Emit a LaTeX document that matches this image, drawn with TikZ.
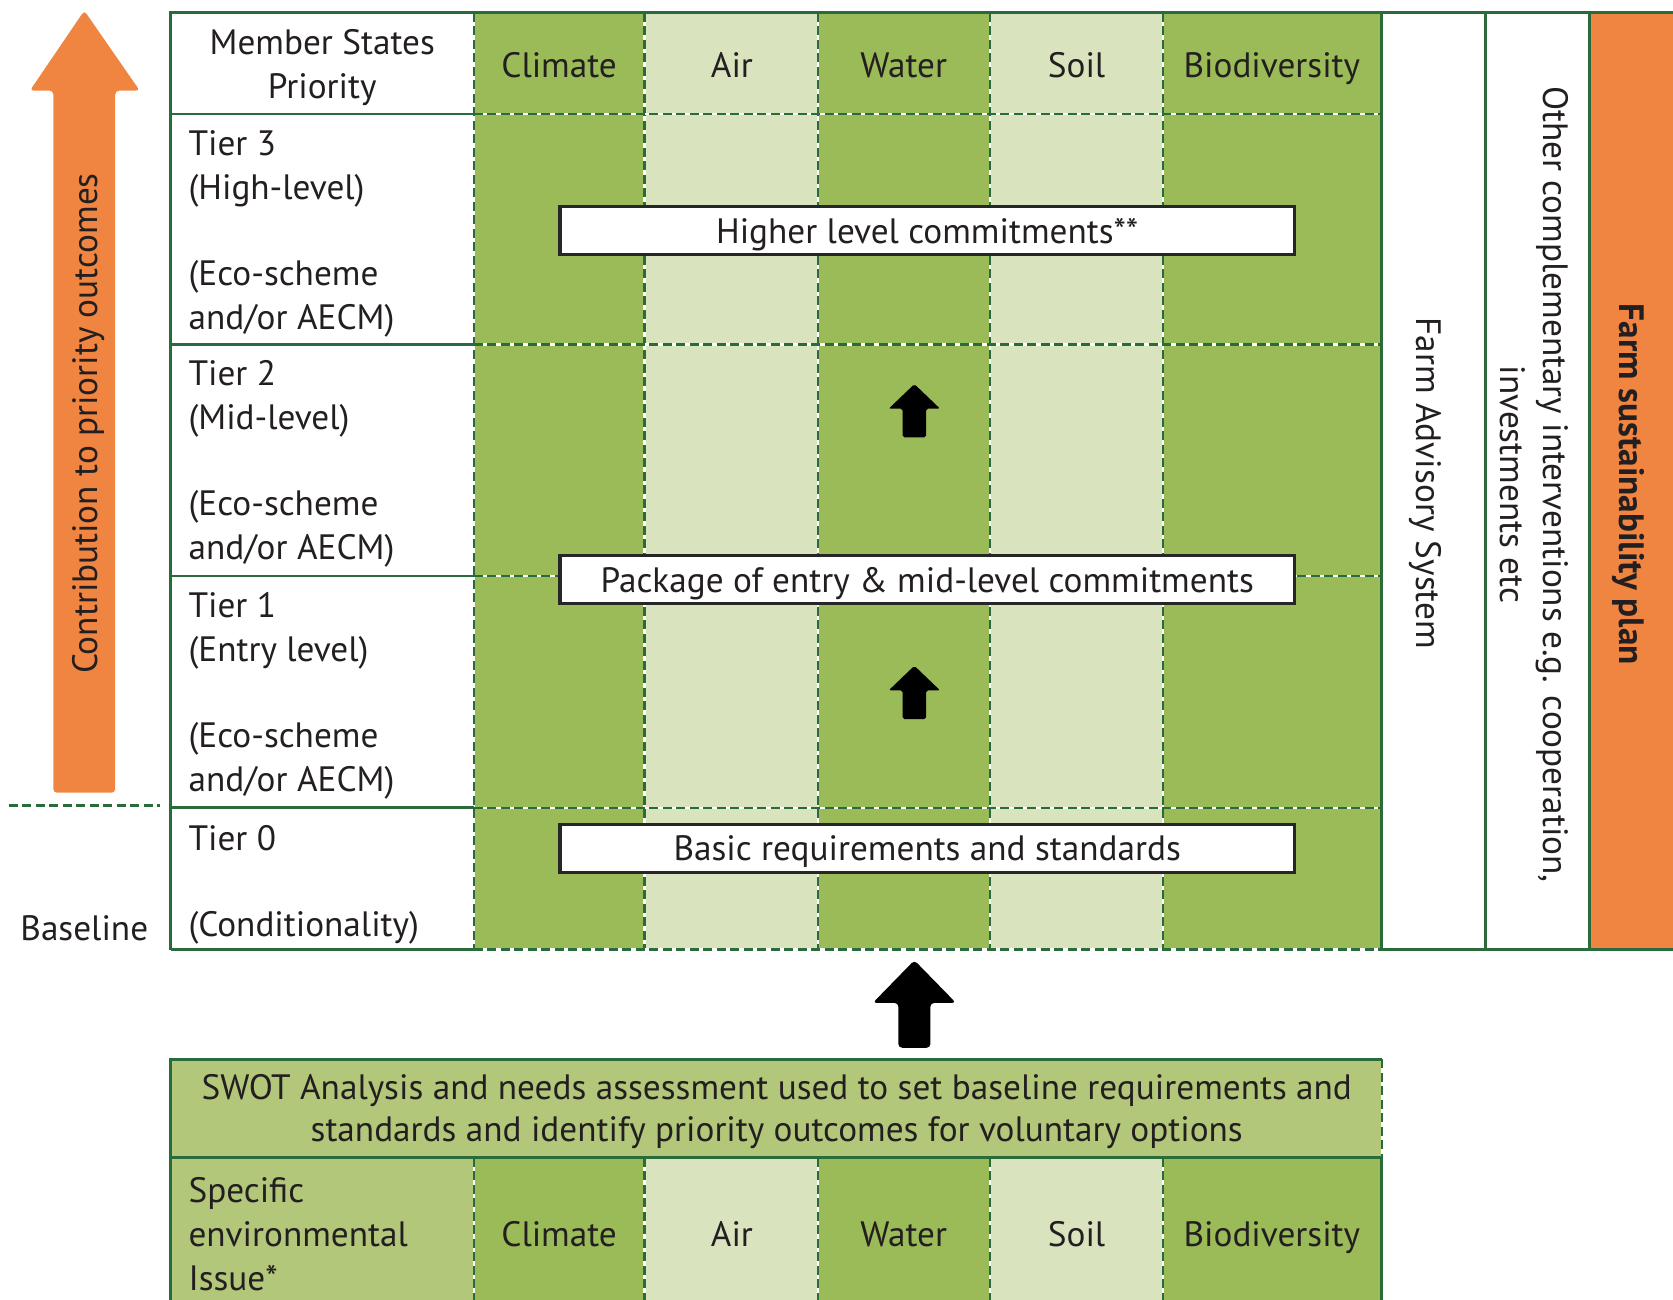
\documentclass[tikz,border=0pt]{standalone}
\usepackage{fontspec}
\setmainfont{PT Sans}
\usetikzlibrary{positioning}

\definecolor{leafgreen}{HTML}{9BBB59}
\definecolor{palegreen}{HTML}{D9E4BE}
\definecolor{swotgreen}{HTML}{B2C77A}
\definecolor{gridgreen}{HTML}{2A6B3C}
\definecolor{farmorange}{HTML}{EF8540}
\definecolor{ink}{HTML}{231F20}

\tikzset{
  gridline/.style={draw=gridgreen, line width=0.7pt},
  dashline/.style={preaction={draw=white, solid, line width=0.6pt},
                   draw=gridgreen, line width=0.6pt, dash pattern=on 2.4pt off 1.2pt},
  txt/.style={font=\fontsize{9.4}{11.7}\selectfont, text=ink, inner sep=0pt},
  word/.style={txt, text height=6.8pt, text depth=0pt},
  lefttxt/.style={txt, anchor=west, align=left},
  commitbox/.style={word, draw=black!85, line width=0.9pt, fill=white,
                    minimum width=6.88cm, minimum height=0.45cm},
}

\begin{document}
\begin{tikzpicture}[x=0.1mm, y=-0.1mm]
			\useasboundingbox (0,0) rectangle (1568,1218);

			% column fills
			\foreach \xa/\xb/\colr in {444/604/leafgreen, 604/767/palegreen, 767/928/leafgreen, 928/1090/palegreen, 1090/1295/leafgreen}
			{
				\fill[\colr] (\xa,12) rectangle (\xb,890);
				\fill[\colr] (\xa,1085) rectangle (\xb,1230);
			}
			\fill[farmorange] (1490,12) rectangle (1575,890);
			\fill[swotgreen] (160,993) rectangle (1295,1085);
			\fill[swotgreen] (160,1085) rectangle (444,1230);

			% grid
			\foreach \x in {444, 604, 767, 928, 1090}
			{
				\draw[dashline] (\x,12) -- (\x,890);
				\draw[dashline] (\x,1085) -- (\x,1230);
			}
			\foreach \y in {107, 323, 540, 757, 890}
			{
				\draw[gridline] (160,\y) -- (444,\y);
				\draw[dashline] (444,\y) -- (1295,\y);
			}
			\draw[gridline] (160,890) -- (160,12) -- (1575,12);
			\foreach \x in {1295, 1392, 1490}
			\draw[gridline] (\x,12) -- (\x,890);
			\draw[gridline] (1295,890) -- (1575,890);

			\draw[gridline] (160,1230) -- (160,993) -- (1295,993);
			\draw[gridline] (160,1085) -- (1295,1085) -- (1295,1230);
			\draw[dashline] (1295,993) -- (1295,1085);

			\draw[dashline, preaction={draw=none}] (8,755) -- (150,755);

			% orange arrow
			\fill[farmorange, rounded corners=1pt] (50,743) -- (50,85) -- (28,85) -- (79,10) -- (131,85) -- (108,85) -- (108,743) -- cycle;
			\node[word, rotate=90] (contrib) at (79,397) {Contribution to priority outcomes};
			\node[word] (base) at (79,870) {Baseline};

			% header row
			\node[txt, align=center] (msp) at (302,63) {Member States\\Priority};
			\node[word] (h1) at (524,61) {Climate};
			\node[word] (h2) at (686,61) {Air};
			\node[word] (h3) at (847,61) {Water};
			\node[word] (h4) at (1009,61) {Soil};
			\node[word] (h5) at (1192,61) {Biodiversity};

			% tiers
			\node[lefttxt] (t3a) at (176,158) {Tier 3\\(High-level)};
			\node[lefttxt] (t3b) at (176,280) {(Eco-scheme\\and/or AECM)};
			\node[lefttxt] (t2a) at (176,374) {Tier 2\\(Mid-level)};
			\node[lefttxt] (t2b) at (176,496) {(Eco-scheme\\and/or AECM)};
			\node[lefttxt] (t1a) at (176,591) {Tier 1\\(Entry level)};
			\node[lefttxt] (t1b) at (176,713) {(Eco-scheme\\and/or AECM)};
			\node[lefttxt, word] (t0a) at (176,785) {Tier 0};
			\node[lefttxt, word] (t0b) at (176,866) {(Conditionality)};

			% commitments
			\node[commitbox] (high) at (869,216) {Higher level commitments**};
			\node[commitbox] (entry) at (869,543) {Package of entry \& mid-level commitments};
			\node[commitbox] (basic) at (869,795) {Basic requirements and standards};

			\foreach \ytip in {360, 624}
			\fill[black, rounded corners=0.5pt] (846,{\ytip+50}) -- (846,{\ytip+23}) -- (833,{\ytip+23}) -- (857,\ytip) -- (881,{\ytip+23}) -- (868,{\ytip+23}) -- (868,{\ytip+50}) -- cycle;

			% side columns
			\node[word, rotate=-90] (fas) at (1340,453) {Farm Advisory System};
			\node[txt, rotate=-90, align=center] (other) at (1438,454) {Other complementary interventions e.g. cooperation,\\investments etc};
			\node[word, rotate=-90, font=\fontsize{9.4}{11.7}\selectfont\bfseries] (fsp) at (1530,454) {Farm sustainability plan};

			% swot
			\fill[black, rounded corners=1pt] (842,982) -- (842,940) -- (818,940) -- (857,900) -- (896,940) -- (872,940) -- (872,982) -- cycle;
			\node[txt, align=center, font=\fontsize{9.4}{11.1}\selectfont] (swot) at (728,1042) {SWOT Analysis and needs assessment used to set baseline requirements and\\standards and identify priority outcomes for voluntary options};
			\node[lefttxt] (issue) at (176,1157) {Specific\\environmental\\Issue*};
			\node[word] (b1) at (524,1156) {Climate};
			\node[word] (b2) at (686,1156) {Air};
			\node[word] (b3) at (847,1156) {Water};
			\node[word] (b4) at (1009,1156) {Soil};
			\node[word] (b5) at (1192,1156) {Biodiversity};
		\end{tikzpicture}
\end{document}
